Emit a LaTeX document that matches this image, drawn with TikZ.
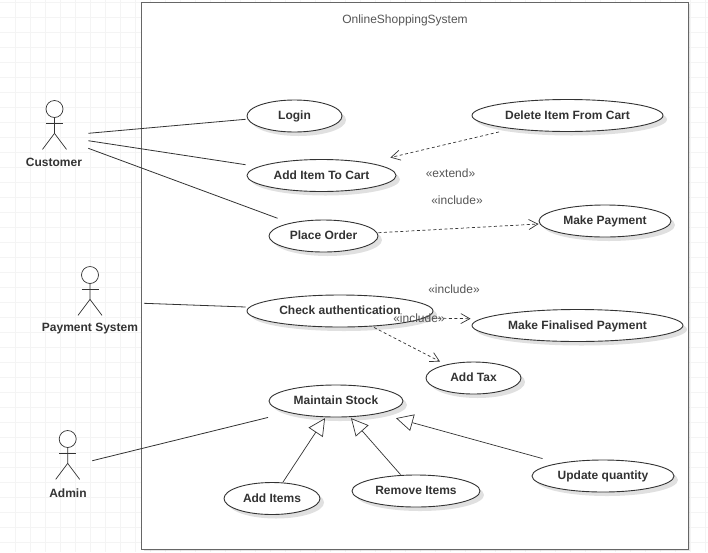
\documentclass[tikz,border=0pt]{standalone}
\usepackage{fontspec}
\setmainfont{Liberation Sans}
\usetikzlibrary{arrows.meta}
\usetikzlibrary{shapes.geometric}
\usetikzlibrary{shadows}
\definecolor{gridgray}{HTML}{F4F4F4}
\definecolor{inkgray}{HTML}{333333}
\definecolor{notegray}{HTML}{555555}
\begin{document}
\begin{tikzpicture}[x=1pt,y=-1pt]
\tikzstyle{usecase}=[ellipse,draw=inkgray,line width=0.9pt,fill=white,inner sep=0pt,minimum height=32pt,text=inkgray,text height=9.5pt,text depth=2.5pt,font=\fontsize{12}{14}\selectfont\bfseries,drop shadow={shadow xshift=4pt,shadow yshift=-4pt,opacity=.12,fill=black}]
\tikzstyle{sysframe}=[rectangle,draw=black!60,line width=1.4pt,fill=white,inner sep=0pt,outer sep=0pt,drop shadow={shadow xshift=2pt,shadow yshift=-2pt,opacity=.1,fill=black}]
\tikzstyle{head}=[circle,draw=inkgray,line width=0.7pt,fill=white,inner sep=0pt,minimum size=17pt]
\tikzstyle{limb}=[draw=inkgray,line width=0.7pt]
\tikzstyle{actorname}=[text=inkgray,text height=9.5pt,text depth=2.5pt,font=\fontsize{12}{14}\selectfont\bfseries]
\tikzstyle{note}=[text=notegray,text height=9.5pt,text depth=2.5pt,font=\fontsize{12}{14}\selectfont]
\tikzstyle{assoc}=[draw=inkgray,line width=0.8pt]
\tikzstyle{dep}=[draw=inkgray,line width=0.7pt,dash pattern=on 3pt off 2.5pt,-{Straight Barb[length=9pt,width=10pt]}]
\tikzstyle{gen}=[draw=inkgray,line width=0.7pt,-{Triangle[open,length=17pt,width=17pt,fill=white]}]
\useasboundingbox (0,0) rectangle (708,552);
\fill[white] (0,0) rectangle (708,552);
\foreach \gx in {15,30,...,705} \draw[gridgray,line width=0.6pt] (\gx,0) -- (\gx,552);
\foreach \gy in {2,17,...,550} \draw[gridgray,line width=0.6pt] (0,\gy) -- (708,\gy);
\node[sysframe,minimum width=546.6pt,minimum height=547pt] at(415,275.8) (system) {};
\node[note] at(405,20) (systitle) {OnlineShoppingSystem};
% actors
\node[head] at(54.5,109) (customer) {};
\node[head] at(90,275) (payment) {};
\node[head] at(67.7,439) (admin) {};
\foreach \who in {customer,payment,admin} {
  \draw[limb] ([yshift=-5.5]\who.south) ++(-8.5,0) -- ++(17,0);
  \draw[limb] (\who.south) -- ++(0,15.5) -- ++(-12,16);
  \draw[limb] (\who.south) ++(0,15.5) -- ++(12,16);
}
\node[actorname] at(54,163) (customername) {Customer};
\node[actorname] at(90,328.3) (paymentname) {Payment System};
\node[actorname] at(68,493.5) (adminname) {Admin};
\coordinate (customerA) at (88.3,133.3);
\coordinate (customerB) at (88.3,140.7);
\coordinate (customerC) at (88.3,148.3);
\coordinate (paymentA) at (144,303.3);
\coordinate (adminA) at (92.3,460.7);
% use cases
\node[usecase,minimum width=95pt] at(294.5,116) (login) {Login};
\node[usecase,minimum width=149pt] at(321.5,175.5) (additem) {Add Item To Cart};
\node[usecase,minimum width=109pt] at(323.5,236) (placeorder) {Place Order};
\node[usecase,minimum width=191pt] at(567.5,115.5) (deleteitem) {Delete Item From Cart};
\node[usecase,minimum width=132pt] at(605,221) (makepayment) {Make Payment};
\node[usecase,minimum width=186pt] at(340,311) (checkauth) {Check authentication};
\node[usecase,minimum width=211pt] at(577.5,325.5) (finalpayment) {Make Finalised Payment};
\node[usecase,minimum width=95pt] at(473.5,378) (addtax) {Add Tax};
\node[usecase,minimum width=134pt] at(336,401) (stock) {Maintain Stock};
\node[usecase,minimum width=96pt] at(272,498.5) (additems) {Add Items};
\node[usecase,minimum width=128pt] at(416,491) (removeitems) {Remove Items};
\node[usecase,minimum width=142pt] at(603,476) (updateqty) {Update quantity};
% connectors
\draw[assoc] (customerA) -- ([xshift=-1,yshift=-3.3]login.west);
\draw[assoc] (customerB) -- ([xshift=-1,yshift=10.8]additem.west);
\draw[assoc] (customerC) -- ([xshift=-46,yshift=1.3]placeorder.north);
\draw[assoc] (paymentA) -- ([xshift=-1,yshift=4]checkauth.west);
\draw[assoc] (adminA) -- ([xshift=-68]stock.south);
\draw[dep] ([xshift=-68.5]deleteitem.south) -- ([xshift=-6,yshift=18]additem.east);
\draw[dep] ([yshift=3.3]placeorder.east) -- ([yshift=-3]makepayment.west);
\draw[dep] ([xshift=-12,yshift=-7]checkauth.east) -- ([xshift=-1,yshift=6.8]finalpayment.west);
\draw[dep] ([xshift=34]checkauth.south) -- ([xshift=-33.5]addtax.north);
\draw[gen] ([xshift=11]additems.north) -- ([xshift=-11,yshift=-.7]stock.south);
\draw[gen] ([xshift=-15.5]removeitems.north) -- ([xshift=15,yshift=-.7]stock.south);
\draw[gen] ([xshift=-60.5,yshift=1]updateqty.north) -- ([xshift=60,yshift=-.7]stock.south);
% stereotypes
\node[note] at(450.5,173.8) (extendnote) {«extend»};
\node[note] at(457,200.8) (includeA) {«include»};
\node[note] at(454,289.8) (includeB) {«include»};
\node[note] at(419,319.2) (includeC) {«include»};
\end{tikzpicture}
\end{document}
